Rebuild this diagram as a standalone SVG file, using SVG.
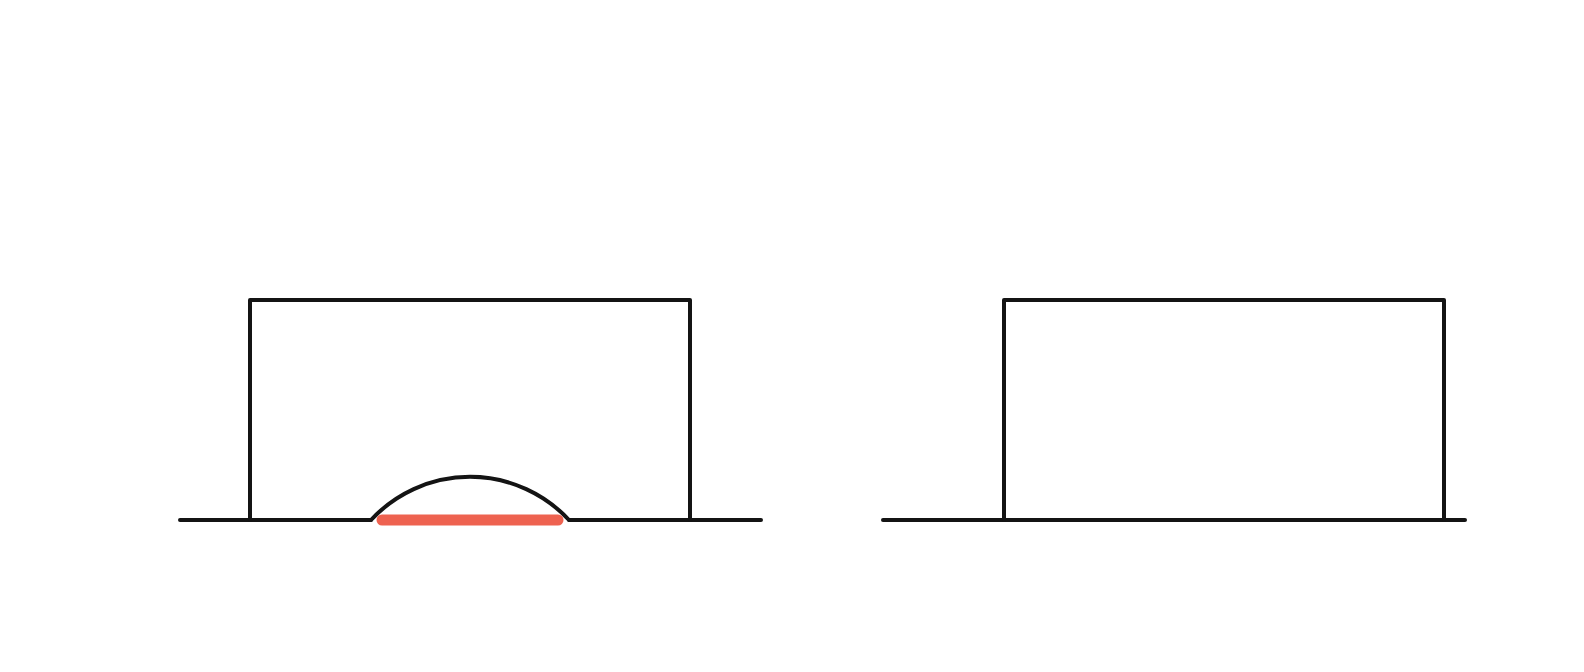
<svg xmlns="http://www.w3.org/2000/svg" width="1584" height="672" viewBox="0 0 1584 672">
<style>
.k{fill:none;stroke:#141414;stroke-width:4;stroke-linecap:round;stroke-linejoin:round}
.r{fill:none;stroke:#EE6250;stroke-width:11;stroke-linecap:round}
</style>
<rect width="1584" height="672" fill="#ffffff"/>
<g id="left-block">
<path class="k" d="M180 520 H371 M569 520 H761"/>
<path class="k" d="M250 520 V300 H690 V520"/>
<path class="k" d="M371 520 A135 135 0 0 1 569 520"/>
<path class="r" d="M382 520 H558"/>
</g>
<g id="right-block">
<path class="k" d="M883 520 H1465"/>
<path class="k" d="M1004 520 V300 H1444 V520"/>
</g>
<g id="connectors"></g>
</svg>
